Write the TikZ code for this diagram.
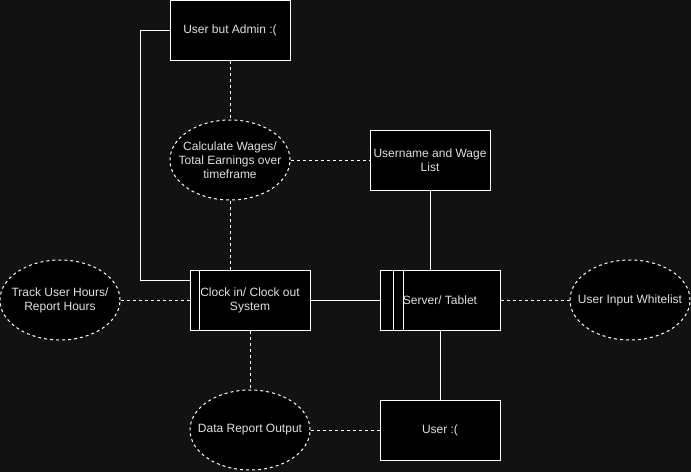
\documentclass[tikz,border=0pt]{standalone}
\usepackage{fontspec}
\setmainfont{Liberation Sans}
\usetikzlibrary{shapes.geometric}
\definecolor{bg}{HTML}{121212}
\definecolor{txt}{HTML}{E0E0E0}

\begin{document}
\begin{tikzpicture}[x=1pt,y=-1pt] % y grows downwards, as in the screenshot
\tikzset{every node/.style={text=txt, font=\fontsize{12}{14}\selectfont, align=center, inner sep=0pt}}
\tikzset{box/.style={draw=white, fill=black, line width=1pt, minimum width=120pt, minimum height=60pt}} % entities
\tikzset{proc/.style={ellipse, draw=white, fill=black, line width=1pt, dash pattern=on 3pt off 3pt, minimum width=120pt, minimum height=80pt, label={center:#1}}} % processes, text as label so it keeps its size
\tikzset{link/.style={draw=white, line width=1pt}, dlink/.style={link, dash pattern=on 3pt off 3pt}}
\fill[bg] (0,0) rectangle (691,472);
\useasboundingbox (0,0) rectangle (691,472);
% connectors first, so the nodes sit on top
\draw[link] (170,30) -| (140,280) -- (190,280); % admin to clock
\node[box] (admin) at (230,30) {User but Admin :(};
\node[proc={Calculate Wages/\\Total Earnings over\\timeframe}] (calc) at (230,160) {};
\node[box] (wage) at (430,160) {Username and Wage\\List};
\node[proc={Track User Hours/\\Report Hours}] (track) at (60,300) {};
\node[box] (clock) at (250,300) {Clock in/ Clock out\\System};
\node[box] (server) at (440,300) {Server/ Tablet};
\node[proc={User Input Whitelist}] (white) at (630,300) {};
\node[proc={Data Report Output}] (report) at (250,430) {};
\node[box] (user) at (440,430) {User :(};
\draw[link] ([xshift=10pt]clock.north west) -- ([xshift=10pt]clock.south west);
\draw[link] ([xshift=14pt]server.north west) -- ([xshift=14pt]server.south west);
\draw[link] ([xshift=24pt]server.north west) -- ([xshift=24pt]server.south west);
\draw[dlink] (admin.south) -- (calc.north);
\draw[dlink] (calc.east) -- (wage.west);
\draw[dlink] (calc.south) -- (clock.north -| calc.south);
\draw[link] (wage.south) -- (server.north -| wage.south);
\draw[dlink] (track.east) -- (clock.west);
\draw[link] (clock.east) -- (server.west);
\draw[dlink] (server.east) -- (white.west);
\draw[dlink] (clock.south) -- (report.north);
\draw[link] (server.south) -- (user.north);
\draw[dlink] (report.east) -- (user.west);
\end{tikzpicture}
\end{document}
